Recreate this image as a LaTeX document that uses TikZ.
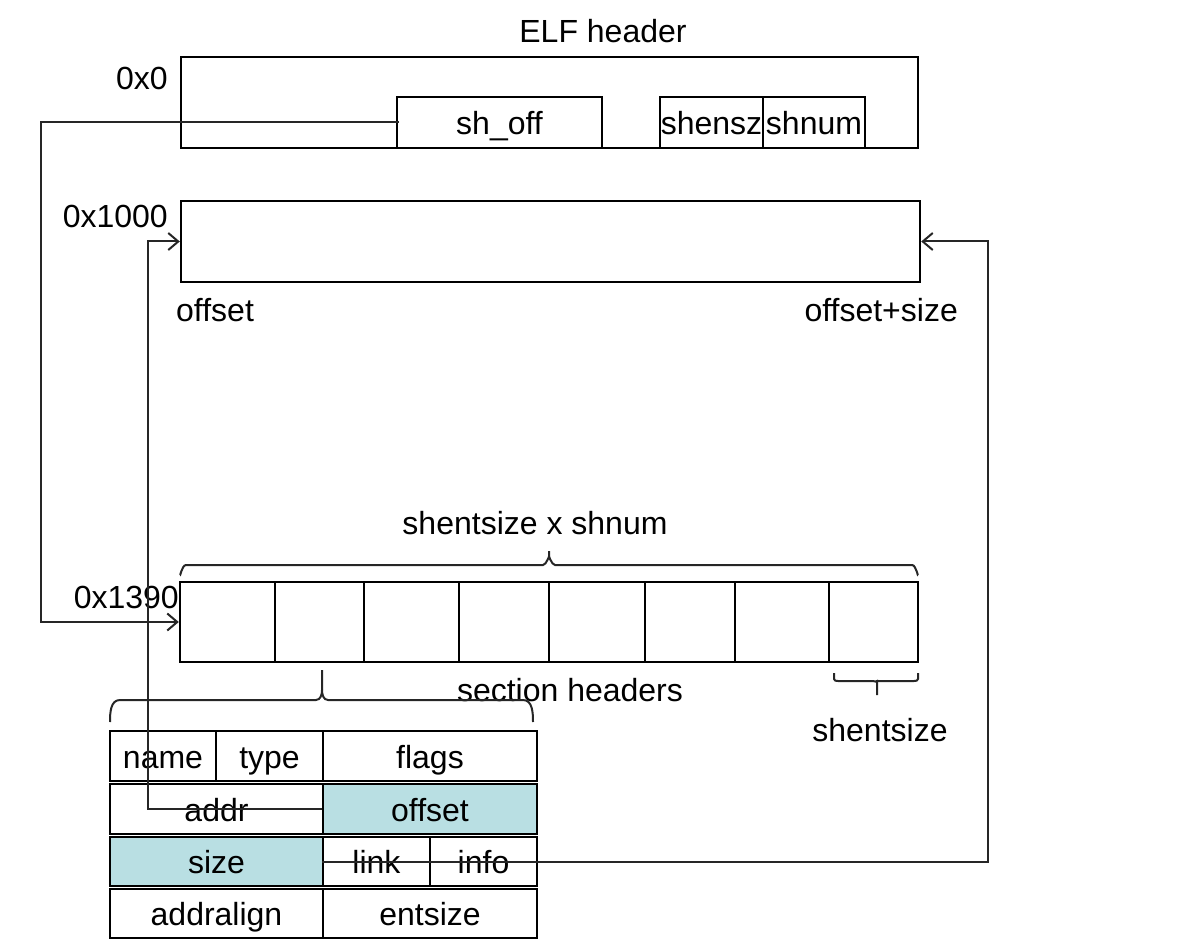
\documentclass[tikz,border=0pt]{standalone}
\usepackage{fontspec}
\setmainfont{Liberation Sans}
\usetikzlibrary{arrows.meta}
\definecolor{cellblue}{RGB}{185,223,227}
\begin{document}
\begin{tikzpicture}[x=1pt,y=-1pt,
  font=\fontsize{32}{38}\selectfont,
  box/.style={draw, line width=2.4pt, inner sep=0pt, text height=27pt, text depth=3pt},
  lbl/.style={inner sep=0pt, text height=27pt, text depth=3pt},
  conn/.style={line width=2pt, draw=black!85},
  arr/.style={conn, -{Straight Barb[length=10pt,width=17pt,line width=2pt]}},
  brace/.style={line width=2pt, draw=black!85}]
\useasboundingbox (0,0) rectangle (1189,949);

% ELF header
\node[lbl] (elft) at (603,31) {ELF header};
\node[box, minimum width=737pt, minimum height=91pt] (elf) at (549.5,102.5) {};
\node[box, minimum width=205pt, minimum height=51pt] (shoff) at (499.5,122.5) {sh\_off};
\node[box, minimum width=103pt, minimum height=51pt] (shensz) at (711.5,122.5) {shensz};
\node[box, minimum width=102pt, minimum height=51pt] (shnum) at (814,122.5) {shnum};
\node[lbl, anchor=east] (a0) at (168,78) {0x0};

% segment
\node[box, minimum width=739pt, minimum height=81pt] (seg) at (550.5,241.5) {};
\node[lbl, anchor=east] (a1000) at (168,216) {0x1000};
\node[lbl, anchor=west] (offl) at (176,310) {offset};
\node[lbl, anchor=east] (offsz) at (958,310) {offset+size};

% section headers row
\node[box, minimum width=95pt, minimum height=80pt] (s1) at (227.5,622) {};
\node[box, minimum width=89pt, minimum height=80pt] (s2) at (319.5,622) {};
\node[box, minimum width=95pt, minimum height=80pt] (s3) at (411.5,622) {};
\node[box, minimum width=90pt, minimum height=80pt] (s4) at (504,622) {};
\node[box, minimum width=96pt, minimum height=80pt] (s5) at (597,622) {};
\node[box, minimum width=90pt, minimum height=80pt] (s6) at (690,622) {};
\node[box, minimum width=94pt, minimum height=80pt] (s7) at (782,622) {};
\node[box, minimum width=89pt, minimum height=80pt] (s8) at (873.5,622) {};
\node[lbl, anchor=east] (a1390) at (179,596) {0x1390};
\node[lbl] (tot) at (535,522) {shentsize x shnum};
\node[lbl] (sech) at (570,689) {section headers};
\node[lbl] (shes) at (880,729) {shentsize};

% braces
\draw[brace] (180,574) to[out=-90,in=180] (186,565) -- (543,565) to[out=0,in=90] (549,558) -- (549,551);
\draw[brace] (549,558) to[out=90,in=180] (555,565) -- (912,565) to[out=0,in=-90] (918,574);
\draw[brace] (110,722) to[out=90,in=180] (120,700) -- (316,700) to[out=0,in=-90] (322,690) -- (322,670);
\draw[brace] (322,690) to[out=-90,in=180] (328,700) -- (523,700) to[out=0,in=90] (533,722);
\draw[brace] (834,673) -- (834,679) to[out=-90,in=180] (838,681) -- (873,681) to[out=0,in=-90] (877,681) -- (877,695);
\draw[brace] (877,681) -- (914,681) to[out=0,in=-90] (918,679) -- (918,673);

% section header table
\node[box, minimum width=106pt, minimum height=50pt] (name) at (163,756) {name};
\node[box, minimum width=107pt, minimum height=50pt] (type) at (269.5,756) {type};
\node[box, minimum width=214pt, minimum height=50pt] (flags) at (430,756) {flags};
\node[box, minimum width=213pt, minimum height=50pt] (addr) at (216.5,809) {addr};
\node[box, fill=cellblue, minimum width=214pt, minimum height=50pt] (offset) at (430,809) {offset};
\node[box, fill=cellblue, minimum width=213pt, minimum height=49pt] (size) at (216.5,861.5) {size};
\node[box, minimum width=107pt, minimum height=49pt] (link) at (376.5,861.5) {link};
\node[box, minimum width=107pt, minimum height=49pt] (info) at (483.5,861.5) {info};
\node[box, minimum width=213pt, minimum height=49pt] (addralign) at (216.5,913.5) {addralign};
\node[box, minimum width=214pt, minimum height=49pt] (entsize) at (430,913.5) {entsize};

% connectors
\coordinate (c1) at (41,122.5);
\coordinate (c2) at (148,809);
\coordinate (c3) at (988,861.5);
\draw[arr] ([xshift=3pt]shoff.west) -- (c1) |- (s1.west);
\draw[arr] (offset.west) -- (c2) |- (seg.west);
\draw[arr] (link.west) -- (c3) |- (seg.east);
\end{tikzpicture}
\end{document}
